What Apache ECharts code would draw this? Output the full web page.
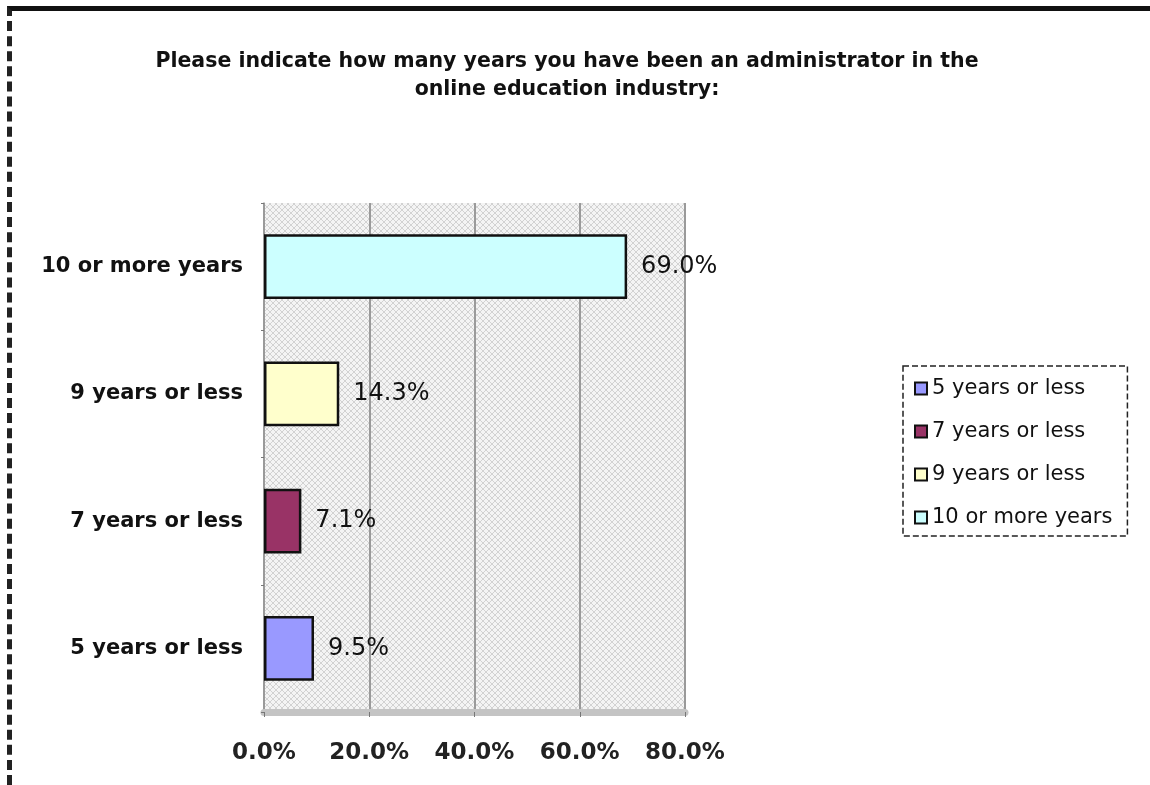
<!DOCTYPE html>
<html>
<head>
<meta charset="utf-8">
<script src="https://cdn.jsdelivr.net/npm/echarts@6/dist/echarts.min.js"></script>
<style>
  html, body { margin: 0; padding: 0; background: #fff; }
  #wrap { position: relative; width: 1150px; height: 785px; }
  #chart { position: absolute; left: 0; top: 0; width: 1150px; height: 785px; }
  #frame {
    position: absolute; left: 7px; top: 6px; right: 0; bottom: 0;
    border-top: 5px solid #111; border-left: 5px dashed #222;
    pointer-events: none;
  }
</style>
</head>
<body>
<div id="wrap">
  <div id="chart"></div>
  <div id="frame"></div>
</div>
<script>
// Survey answers, bottom to top
const categories = ['5 years or less', '7 years or less', '9 years or less', '10 or more years'];
const values = [9.5, 7.1, 14.3, 69.0];
const barColors = ['#9999FF', '#993366', '#FFFFCC', '#CCFFFF'];
const xTicks = [0, 20, 40, 60, 80];
const titleText = 'Please indicate how many years you have been an administrator in the\nonline education industry:';

// light cross-hatch fill for the plot background
function hatch() {
  const c = document.createElement('canvas');
  c.width = 6; c.height = 6;
  const g = c.getContext('2d');
  g.fillStyle = '#f4f4f4';
  g.fillRect(0, 0, 6, 6);
  g.fillStyle = '#d2d2d2';
  for (let i = 0; i < 6; i++) {
    g.fillRect(i, i, 1, 1);
    g.fillRect(5 - i, i, 1, 1);
  }
  return c;
}

const chart = echarts.init(document.getElementById('chart'), null, { renderer: 'canvas' });

const series = categories.map((name, idx) => ({
  name: name,
  type: 'bar',
  stack: 'all',
  barWidth: '51%',
  itemStyle: { color: barColors[idx], borderColor: '#111', borderWidth: 2.5 },
  label: {
    show: true,
    position: 'right',
    distance: 14,
    formatter: p => p.value.toFixed(1) + '%',
    fontFamily: 'DejaVu Sans',
    fontSize: 24,
    color: '#111'
  },
  data: values.map((v, j) => (j === idx ? v : '-'))
}));

chart.setOption({
  animation: false,
  backgroundColor: 'transparent',
  title: {
    text: titleText,
    left: 562,
    top: 43,
    textAlign: 'center',
    textStyle: {
      fontFamily: 'DejaVu Sans',
      fontWeight: 'bold',
      fontSize: 20.5,
      lineHeight: 28,
      color: '#111'
    }
  },
  legend: {
    orient: 'vertical',
    left: 903,
    top: 366,
    padding: [12, 15, 8, 11],
    itemGap: 22,
    itemWidth: 12,
    itemHeight: 12,
    icon: 'rect',
    textStyle: { fontFamily: 'DejaVu Sans', fontSize: 21, color: '#111' },
    borderColor: '#222',
    borderWidth: 1.5,
    borderType: 'dashed',
    data: categories
  },
  grid: {
    left: 264,
    right: 465,
    top: 203,
    bottom: 73,
    show: true,
    borderWidth: 0,
    backgroundColor: { image: hatch(), repeat: 'repeat' }
  },
  xAxis: {
    type: 'value',
    min: xTicks[0],
    max: xTicks[xTicks.length - 1],
    interval: xTicks[1] - xTicks[0],
    axisLine: { show: true, lineStyle: { color: '#c4c4c4', width: 7 } },
    axisTick: { show: true, length: 5, lineStyle: { color: '#777' } },
    splitLine: { show: true, lineStyle: { color: '#9a9a9a', width: 2 } },
    axisLabel: {
      margin: 30,
      formatter: v => v.toFixed(1) + '%',
      fontFamily: 'DejaVu Sans',
      fontWeight: 'bold',
      fontSize: 23,
      color: '#222'
    }
  },
  yAxis: {
    type: 'category',
    data: categories,
    axisLine: { show: true, lineStyle: { color: '#9a9a9a', width: 1.5 } },
    axisTick: { show: true, length: 3, lineStyle: { color: '#777' } },
    axisLabel: {
      margin: 21,
      fontFamily: 'DejaVu Sans',
      fontWeight: 'bold',
      fontSize: 21,
      color: '#111'
    }
  },
  series: series
});
</script>
</body>
</html>
